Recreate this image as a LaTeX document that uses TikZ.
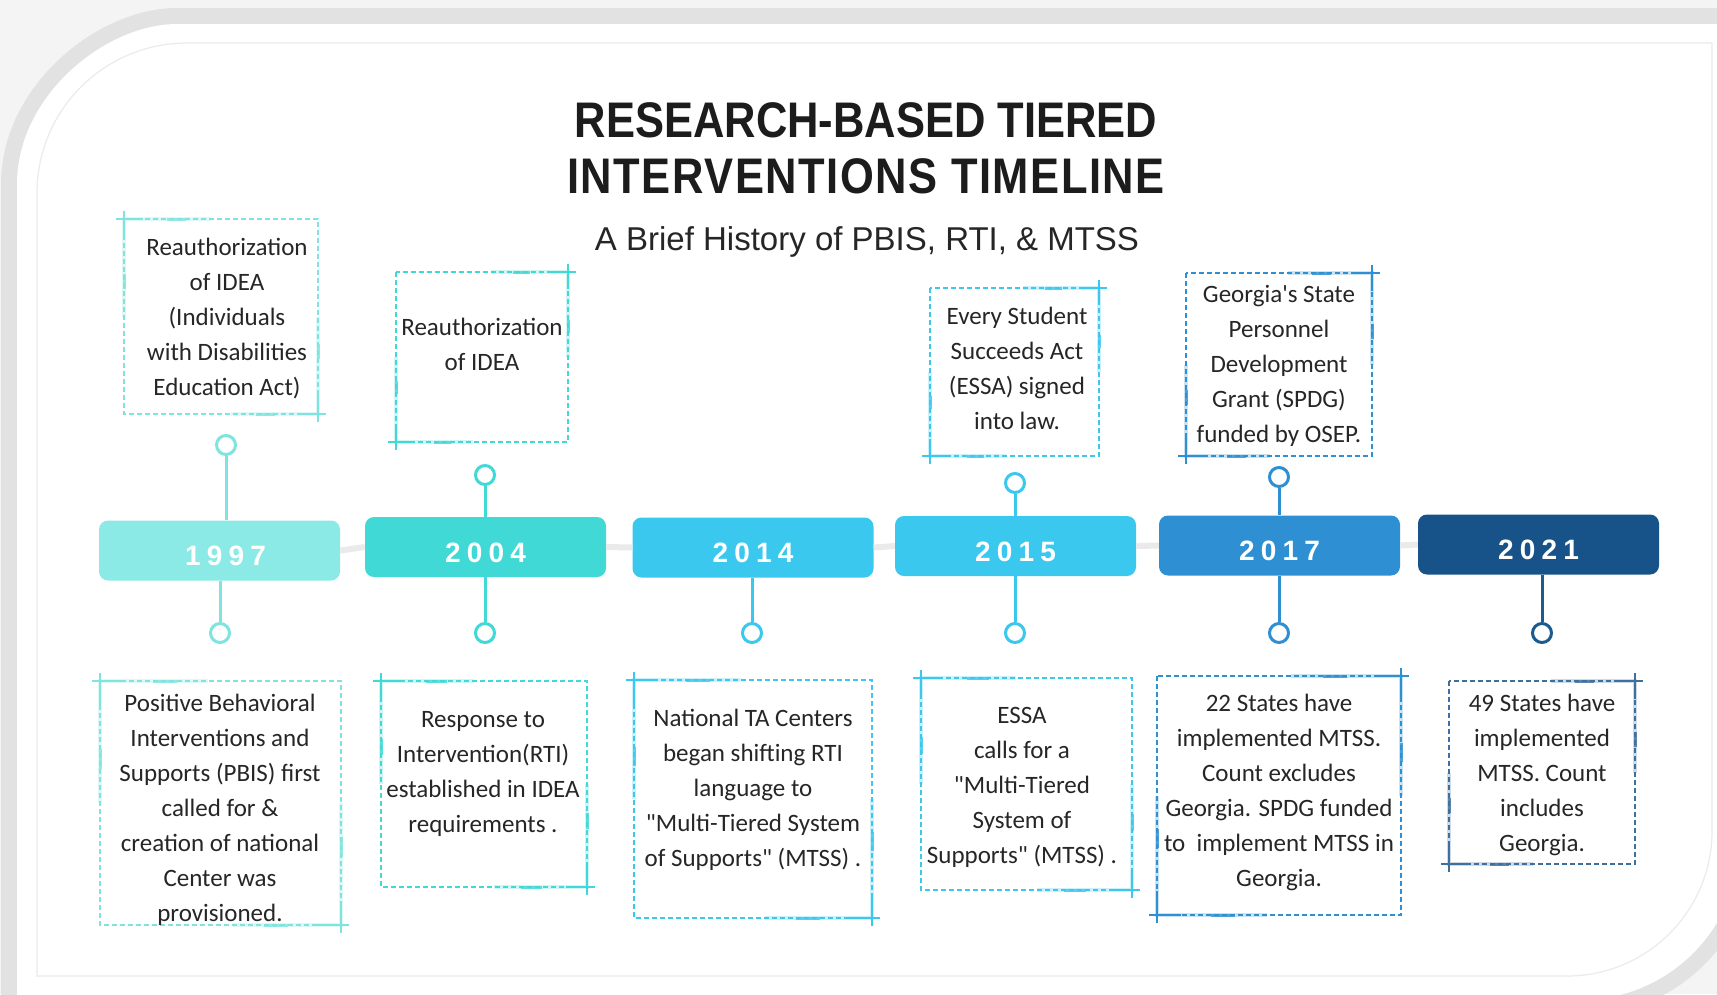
\documentclass[tikz,border=0pt]{standalone}
\usepackage{fontspec}
\setmainfont{Carlito}
\newfontfamily\bodyfont{Carlito}
\newfontfamily\titlefont{Liberation Sans}[FakeStretch=0.87]
\newfontfamily\titlefontwide{Liberation Sans}[FakeStretch=0.87,LetterSpace=3]
\newfontfamily\subfont{Liberation Sans}
\newfontfamily\yearfont{Liberation Sans}[LetterSpace=22]
\definecolor{bgout}{HTML}{F4F4F4}
\definecolor{shadowgray}{HTML}{E2E2E2}
\definecolor{innerline}{HTML}{EBEBEB}
\definecolor{tline}{HTML}{EAEAEA}
\definecolor{txt}{HTML}{262626}
\definecolor{ttl}{HTML}{1C1C1C}
\definecolor{box97}{HTML}{8BEAE6}
\definecolor{g97}{HTML}{7FE4DF}
\definecolor{g04}{HTML}{40D9D5}
\definecolor{g14}{HTML}{3BC8EF}
\definecolor{g17}{HTML}{2E90D3}
\definecolor{box21}{HTML}{175389}
\definecolor{g21}{HTML}{1B5B8F}
\definecolor{g21f}{HTML}{3F6F9C}
\tikzset{
  yearbox/.style={rounded corners=9, minimum width=241, minimum height=60, inner sep=0,
    text=white, text height=30pt, text depth=0pt, font=\yearfont\bfseries\fontsize{28}{30}\selectfont},
  ring/.style={circle, draw, line width=3, fill=white, minimum size=19, inner sep=0},
  stemline/.style={line width=3},
  notetext/.style={anchor=north, align=center, inner sep=0, text=txt,
    font=\bodyfont\fontsize{25}{35}\selectfont},
  frm/.style={line width=1.5, dash pattern=on 5 off 3},
}
\newcommand\crn[7]{%
  \draw[#7, line width=3.5, opacity=.25] ({#1+(#3)*0.45*(#5)},#2) -- (#1,#2) -- (#1,{#2+(#4)*0.5*(#6)});
  \draw[#7, line width=3, opacity=.8] ({#1+(#3)*0.22*(#5)},#2) -- ({#1+(#3)*0.32*(#5)},#2);
  \draw[#7, line width=3, opacity=.8] (#1,{#2+(#4)*0.28*(#6)}) -- (#1,{#2+(#4)*0.36*(#6)});
  \draw[#7, line width=2.2] ({#1-(#3)*8},#2) -- ({#1+(#3)*0.1*(#5)},#2);
  \draw[#7, line width=2.2] (#1,{#2-(#4)*8}) -- (#1,{#2+(#4)*0.1*(#6)});
}
\newcommand\tlframeA[5]{%
  \draw[frm,#5] (#1,#2) rectangle (#3,#4);
  \crn{#1}{#2}{1}{1}{#3-#1}{#4-#2}{#5}
  \crn{#3}{#4}{-1}{-1}{#3-#1}{#4-#2}{#5}}
\newcommand\tlframeB[5]{%
  \draw[frm,#5] (#1,#2) rectangle (#3,#4);
  \crn{#3}{#2}{-1}{1}{#3-#1}{#4-#2}{#5}
  \crn{#1}{#4}{1}{-1}{#3-#1}{#4-#2}{#5}}
\begin{document}
\begin{tikzpicture}[x=1pt,y=-1pt]
\useasboundingbox (0,0) rectangle (1717,994);
% background
\fill[bgout] (0,0) rectangle (1717,994);
\draw[shadowgray, line width=32] (17,1010) -- (17,184) .. controls (17,95.6) and (105.6,24) .. (177,24) -- (1740,24) -- (1740,840) .. controls (1740,928.4) and (1668.4,1000) .. (1580,1000) -- cycle;
\fill[white] (17,1010) -- (17,184) .. controls (17,95.6) and (105.6,24) .. (177,24) -- (1740,24) -- (1740,840) .. controls (1740,928.4) and (1668.4,1000) .. (1580,1000) -- cycle;
\draw[innerline, line width=1.2] (37,976) -- (37,193) .. controls (37,110.2) and (104.2,43) .. (187,43) -- (1712,43) -- (1712,831) .. controls (1712,911) and (1647,976) .. (1567,976) -- cycle;

% title
\node[anchor=north, align=center, inner sep=0, text=ttl, font=\titlefont\bfseries\fontsize{50}{56}\selectfont] (title) at (866,102) {RESEARCH-BASED TIERED\\{\titlefontwide\bfseries INTERVENTIONS TIMELINE}};
\node[anchor=base, inner sep=0, text=txt, font=\subfont\fontsize{33}{36}\selectfont] (subtitle) at (867,250) {A Brief History of PBIS, RTI, \& MTSS};

% year boxes
\node[yearbox, fill=box97] (y1997) at (219.5,550.5) {\kern12pt 1997};
\node[yearbox, fill=g04] (y2004) at (485.5,547) {2004};
\node[yearbox, fill=g14] (y2014) at (753,547.5) {2014};
\node[yearbox, fill=g14] (y2015) at (1015.5,546) {2015};
\node[yearbox, fill=g17] (y2017) at (1279.5,545.5) {2017};
\node[yearbox, fill=box21] (y2021) at (1538.5,544.5) {2021};

% timeline segments
\draw[tline, line width=6] (y1997.east) -- (y2004.west);
\draw[tline, line width=6] (y2004.east) -- (y2014.west);
\draw[tline, line width=6] (y2014.east) -- (y2015.west);
\draw[tline, line width=6] (y2015.east) -- (y2017.west);
\draw[tline, line width=6] (y2017.east) -- (y2021.west);

% rings
\node[ring, draw=g97] (t1997) at (226,445) {};
\node[ring, draw=g97] (b1997) at (220,633) {};
\node[ring, draw=g04] (t2004) at (485,475) {};
\node[ring, draw=g04] (b2004) at (485,633) {};
\node[ring, draw=g14] (b2014) at (752,633) {};
\node[ring, draw=g14] (t2015) at (1015,483) {};
\node[ring, draw=g14] (b2015) at (1015,633) {};
\node[ring, draw=g17] (t2017) at (1279,477) {};
\node[ring, draw=g17] (b2017) at (1279,633) {};
\node[ring, draw=g21] (b2021) at (1542,633) {};

% stems
\draw[stemline, g97] (t1997.south) -- (t1997.south |- y1997.north);
\draw[stemline, g97] (b1997.north) -- (b1997.north |- y1997.south);
\draw[stemline, g04] (t2004.south) -- (t2004.south |- y2004.north);
\draw[stemline, g04] (b2004.north) -- (b2004.north |- y2004.south);
\draw[stemline, g14] (b2014.north) -- (b2014.north |- y2014.south);
\draw[stemline, g14] (t2015.south) -- (t2015.south |- y2015.north);
\draw[stemline, g14] (b2015.north) -- (b2015.north |- y2015.south);
\draw[stemline, g17] (t2017.south) -- (t2017.south |- y2017.north);
\draw[stemline, g17] (b2017.north) -- (b2017.north |- y2017.south);
\draw[stemline, g21] (b2021.north) -- (b2021.north |- y2021.south);

% frames
\tlframeA{124}{219}{318}{414}{g97}
\tlframeB{396}{272}{568}{442}{g04}
\tlframeB{930}{288}{1099}{456}{g14}
\tlframeB{1186}{273}{1372}{456}{g17}
\tlframeA{100}{681}{341}{925}{g97}
\tlframeA{381}{681}{587}{887}{g04}
\tlframeA{634}{680}{872}{918}{g14}
\tlframeA{921}{678}{1132}{890}{g14}
\tlframeB{1157}{676}{1401}{915}{g17}
\tlframeB{1449}{681}{1635}{864}{g21f}

% texts
\node[notetext] (n97t) at (227,237.5) {Reauthorization\\of IDEA\\(Individuals\\with Disabilities\\Education Act)};
\node[notetext] (n04t) at (482,317.5) {Reauthorization\\of IDEA};
\node[notetext] (n15t) at (1017,306.5) {Every Student\\Succeeds Act\\(ESSA) signed\\into law.};
\node[notetext] (n17t) at (1279,285.5) {Georgia's State\\Personnel\\Development\\Grant (SPDG)\\funded by OSEP.};
\node[notetext] (n97b) at (220,693.5) {Positive Behavioral\\Interventions and\\Supports (PBIS) first\\called for \&\\creation of national\\Center was\\provisioned.};
\node[notetext] (n04b) at (483,711) {Response to\\Intervention(RTI)\\established in IDEA\\requirements .};
\node[notetext] (n14b) at (753,708.5) {National TA Centers\\began shifting RTI\\language to\\"Multi-Tiered System\\of Supports" (MTSS) .};
\node[notetext] (n15b) at (1022,707.5) {ESSA\\calls for a\\"Multi-Tiered\\System of\\Supports" (MTSS) .};
\node[notetext] (n17b) at (1279,693.5) {22 States have\\implemented MTSS.\\Count excludes\\Georgia. SPDG funded\\to\ \ implement MTSS in\\Georgia.};
\node[notetext] (n21b) at (1542,693.5) {49 States have\\implemented\\MTSS. Count\\includes\\Georgia.};
\end{tikzpicture}
\end{document}
